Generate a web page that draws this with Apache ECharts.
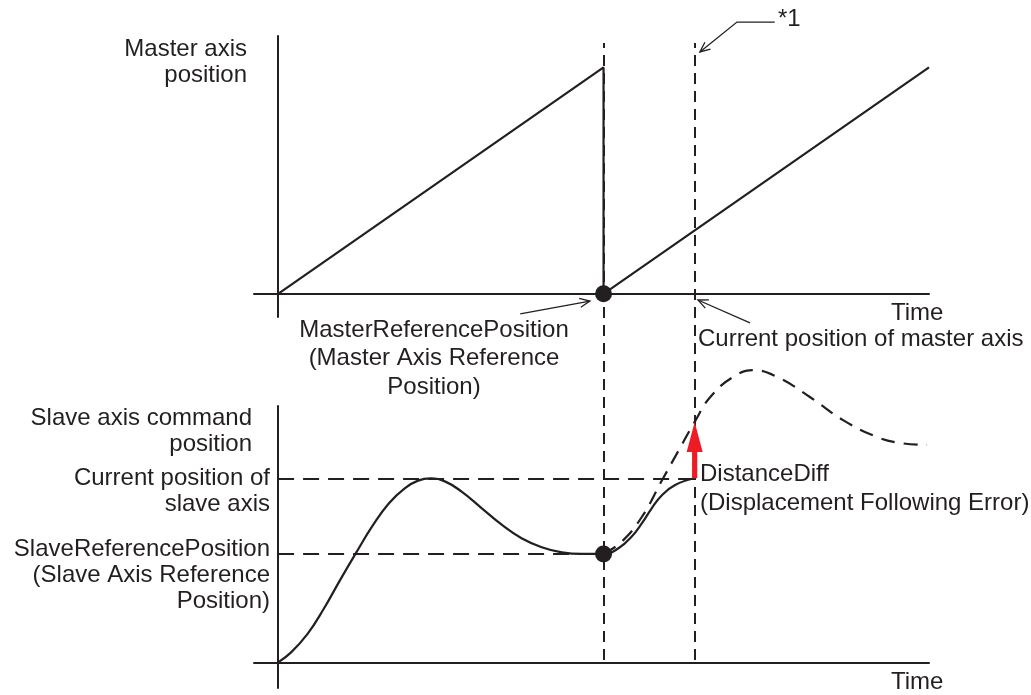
<!DOCTYPE html>
<html>
<head>
<meta charset="utf-8">
<script src="https://cdn.jsdelivr.net/npm/echarts@6/dist/echarts.min.js"></script>
<style>
  html, body { margin: 0; padding: 0; background: #fff; }
  #main { width: 1031px; height: 695px; }
</style>
</head>
<body>
<div id="main"></div>
<script>
var chart = echarts.init(document.getElementById('main'));
var ink = '#231f20';
var fontFamily = '"Liberation Sans", Arial, sans-serif';

// time axis runs 0..100
var refTime = 50;   // MasterReferencePosition
var nowTime = 64;   // current position of master axis
var markTimes = [refTime, nowTime];

// master axis position (sawtooth)
var masterTime = [0, 50, 50, 100];
var masterPos = [0, 87.8, 0, 87.8];

// slave axis actual position
var slaveTime = [0, 2, 4.5, 7, 9.5, 12, 14.5, 17, 19.5, 21.5, 23.4, 25.7, 28.2, 31.3, 34.4, 37.4, 40.5, 43.6, 46.7, 50, 52.3, 54.3, 55.9, 57.4, 59.0, 61.0, 64];
var slavePos = [0, 3.9, 11.0, 20.8, 32.0, 42.8, 53.2, 62.0, 68.0, 70.9, 71.8, 70.5, 66.6, 60.1, 53.6, 48.4, 44.9, 42.9, 42.3, 42.3, 44.5, 49.0, 54.3, 60.1, 65.3, 69.2, 71.8];

// slave axis command position (after the reference point)
var cmdTime = [50, 52.8, 55.9, 59, 61.5, 64, 66.4, 69.9, 73, 76.7, 81.7, 86.8, 92, 95.5, 99.7];
var cmdPos = [42.3, 47.1, 56.8, 71.1, 82.5, 93.8, 103.5, 111.3, 114.0, 111.3, 103.5, 94.5, 87.9, 85.6, 84.8];

var slaveRefPos = 42.3;
var slaveNowPos = 71.8;
var cmdNowPos = 93.8;

// annotation leader lines in top panel coordinates, arrow head on the last point
var leaders = [
  [[37.2, -7.8], [47.9, -2.8]],
  [[72.5, -11.3], [64.5, -2.4]],
  [[76.3, 105.4], [70.5, 105.4], [64.8, 93.8]]
];

function zip(a, b) {
  return a.map(function (v, i) { return [v, b[i]]; });
}

function hiddenAxis(grid, min, max) {
  return {
    gridIndex: grid, type: 'value', min: min, max: max,
    axisLine: { show: false }, axisTick: { show: false },
    axisLabel: { show: false }, splitLine: { show: false }
  };
}

function visibleAxis(grid, min, max) {
  var ax = hiddenAxis(grid, min, max);
  ax.axisLine = { show: true, onZero: true, lineStyle: { color: ink, width: 2 } };
  return ax;
}

function txt(x, y, text, align, lh) {
  return {
    type: 'text', silent: true,
    style: {
      x: x, y: y, text: text, align: align, verticalAlign: 'middle',
      fontFamily: fontFamily, fontSize: 24, lineHeight: lh || 27, fill: ink
    }
  };
}

var option = {
  animation: false,
  grid: [
    { left: 254, right: 102, top: 36, bottom: 378 },
    { left: 254, right: 102, top: 406, bottom: 7 },
    { left: 254, right: 102, top: 43, bottom: 35 }
  ],
  xAxis: [
    visibleAxis(0, -3.7, 100),
    visibleAxis(1, -3.7, 100),
    hiddenAxis(2, -3.7, 100)
  ],
  yAxis: [
    visibleAxis(0, -9, 100),
    visibleAxis(1, -10, 100),
    hiddenAxis(2, 0, 1)
  ],
  series: [
    {
      type: 'line', xAxisIndex: 2, yAxisIndex: 2, data: [[refTime, 0]], symbol: 'none', silent: true,
      markLine: {
        silent: true, symbol: 'none', label: { show: false },
        lineStyle: { color: ink, width: 2, type: [11, 7] },
        data: markTimes.map(function (t) { return { xAxis: t }; })
      }
    },
    {
      type: 'line', xAxisIndex: 0, yAxisIndex: 0, data: zip(masterTime, masterPos),
      symbol: 'none', silent: true, lineStyle: { color: ink, width: 2.2 }
    },
    {
      type: 'scatter', xAxisIndex: 0, yAxisIndex: 0, data: [[refTime, 0]], z: 5,
      symbolSize: 17, itemStyle: { color: ink, opacity: 1 }, silent: true
    },
    {
      type: 'custom', xAxisIndex: 0, yAxisIndex: 0, clip: false, silent: true,
      data: leaders.map(function (l) { return l[l.length - 1]; }),
      renderItem: function (params, api) {
        var pts = leaders[params.dataIndex].map(function (p) { return api.coord(p); });
        var tip = pts[pts.length - 1], prev = pts[pts.length - 2];
        var ang = Math.atan2(prev[1] - tip[1], prev[0] - tip[0]);
        var L = 11, a = 0.42;
        var w1 = [tip[0] + L * Math.cos(ang + a), tip[1] + L * Math.sin(ang + a)];
        var w2 = [tip[0] + L * Math.cos(ang - a), tip[1] + L * Math.sin(ang - a)];
        return {
          type: 'group', children: [
            { type: 'polyline', shape: { points: pts }, style: { stroke: ink, lineWidth: 1.3, fill: null } },
            { type: 'polyline', shape: { points: [w1, tip, w2] }, style: { stroke: ink, lineWidth: 1.3, fill: null } }
          ]
        };
      }
    },
    {
      type: 'line', xAxisIndex: 1, yAxisIndex: 1, data: zip(slaveTime, slavePos),
      smooth: 0.45, symbol: 'none', silent: true, lineStyle: { color: ink, width: 2.2 },
      markLine: {
        silent: true, symbol: 'none', label: { show: false },
        lineStyle: { color: ink, width: 2, type: [16, 9] },
        data: [
          [{ coord: [0, slaveNowPos] }, { coord: [nowTime, slaveNowPos] }],
          [{ coord: [0, slaveRefPos] }, { coord: [refTime, slaveRefPos] }]
        ]
      }
    },
    {
      type: 'line', xAxisIndex: 1, yAxisIndex: 1, data: zip(cmdTime, cmdPos), clip: false,
      smooth: 0.45, symbol: 'none', silent: true, lineStyle: { color: ink, width: 2.2, type: [14, 9] }
    },
    {
      type: 'scatter', xAxisIndex: 1, yAxisIndex: 1, data: [[refTime, slaveRefPos]], z: 5,
      symbolSize: 17, itemStyle: { color: ink, opacity: 1 }, silent: true
    },
    {
      type: 'custom', xAxisIndex: 1, yAxisIndex: 1, clip: false, silent: true, z: 6,
      encode: { x: 0, y: [1, 2] },
      data: [[nowTime, slaveNowPos, cmdNowPos]],
      renderItem: function (params, api) {
        var x = api.value(0);
        var p0 = api.coord([x, api.value(1)]);
        var p1 = api.coord([x, api.value(2)]);
        var hw = 2.6, HW = 8, HL = 30, cx = p0[0];
        return {
          type: 'polygon',
          shape: { points: [
            [cx - hw, p0[1]], [cx - hw, p1[1] + HL], [cx - HW, p1[1] + HL], [cx, p1[1]],
            [cx + HW, p1[1] + HL], [cx + hw, p1[1] + HL], [cx + hw, p0[1]]
          ] },
          style: { fill: '#ed1c24' }
        };
      }
    }
  ],
  graphic: [
    txt(247, 62, 'Master axis\nposition', 'right', 26),
    txt(434, 358.5, 'MasterReferencePosition\n(Master Axis Reference\nPosition)', 'center', 28.5),
    txt(891, 313, 'Time', 'left'),
    txt(698, 339, 'Current position of master axis', 'left'),
    txt(778, 19.5, '*1', 'left'),
    txt(252, 431.5, 'Slave axis command\nposition', 'right', 26),
    txt(270, 491.5, 'Current position of\nslave axis', 'right', 26),
    txt(270, 575.5, 'SlaveReferencePosition\n(Slave Axis Reference\nPosition)', 'right', 26),
    txt(700, 489, 'DistanceDiff\n(Displacement Following Error)', 'left', 28.5),
    txt(891, 682.5, 'Time', 'left')
  ]
};

chart.setOption(option);
</script>
</body>
</html>
